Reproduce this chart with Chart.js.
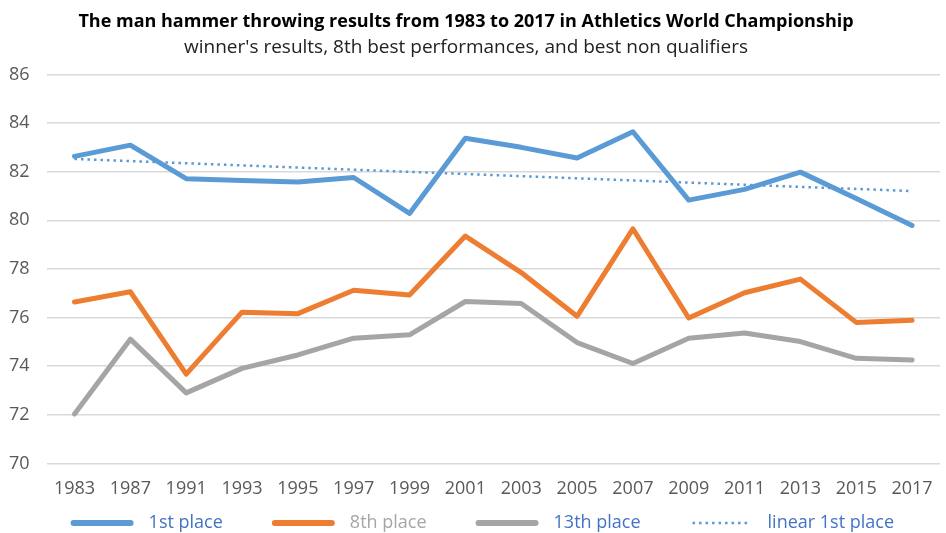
<!DOCTYPE html>
<html>
<head>
<meta charset="utf-8">
<title>Hammer throw results</title>
<script src="https://cdn.jsdelivr.net/npm/chart.js@4"></script>
<style>
  body { margin: 0; background: #fff; }
  #wrap { width: 946px; height: 533px; position: relative; }
</style>
</head>
<body>
<div id="wrap"><canvas id="hammerChart"></canvas></div>
<script>
var years = ["1983", "1987", "1991", "1993", "1995", "1997", "1999", "2001", "2003", "2005", "2007", "2009", "2011", "2013", "2015", "2017"];

var firstPlace = [82.63, 83.09, 81.71, 81.64, 81.57, 81.76, 80.28, 83.37, 83.0, 82.56, 83.64, 80.83, 81.27, 81.98, 80.9, 79.79];
var eighthPlace = [76.64, 77.06, 73.67, 76.22, 76.16, 77.12, 76.93, 79.35, 77.85, 76.05, 79.65, 75.98, 77.02, 77.58, 75.8, 75.89];
var thirteenthPlace = [72.03, 75.11, 72.9, 73.91, 74.46, 75.15, 75.29, 76.66, 76.58, 74.97, 74.11, 75.15, 75.36, 75.01, 74.32, 74.25];
// trend line at its two ends
var linearFirst = [82.52, null, null, null, null, null, null, null, null, null, null, null, null, null, null, 81.2];

var legendTextColors = ["#4472c4", "#a6a6a6", "#4472c4", "#4472c4"];

var fontFam = "'Open Sans', 'Noto Sans', sans-serif";

// legend drawn by hand so the gaps between items can be wider than the row height
var bottomLegend = {
  id: 'bottomLegend',
  afterDraw: function(chart) {
    var c = chart.ctx;
    var sets = chart.data.datasets;
    var sampleLen = 63, textGap = 15, itemGap = 49;
    var y = chart.height - 10;
    var x = chart.chartArea.left + 24;
    c.save();
    c.font = "18px " + fontFam;
    c.textBaseline = 'middle';
    for (var i = 0; i < sets.length; i++) {
      var ds = sets[i];
      c.beginPath();
      c.strokeStyle = ds.borderColor;
      if (ds.borderDash) {
        c.lineWidth = 2.5;
        c.lineCap = 'butt';
        c.setLineDash(ds.borderDash);
      } else {
        c.lineWidth = 6;
        c.lineCap = 'round';
        c.setLineDash([]);
      }
      c.moveTo(x + 3, y);
      c.lineTo(x + sampleLen - 3, y);
      c.stroke();
      c.fillStyle = legendTextColors[i];
      c.fillText(ds.label, x + sampleLen + textGap, y);
      x += sampleLen + textGap + c.measureText(ds.label).width + itemGap;
    }
    c.restore();
  }
};

var ctx = document.getElementById('hammerChart');

var hammerChart = new Chart(ctx, {
  type: 'line',
  data: {
    labels: years,
    datasets: [
      {
        label: "1st place",
        data: firstPlace,
        borderColor: "#5b9bd5",
        backgroundColor: "#5b9bd5",
        borderWidth: 5,
        borderCapStyle: 'round',
        borderJoinStyle: 'round',
        pointRadius: 0,
        tension: 0
      },
      {
        label: "8th place",
        data: eighthPlace,
        borderColor: "#ed7d31",
        backgroundColor: "#ed7d31",
        borderWidth: 5,
        borderCapStyle: 'round',
        borderJoinStyle: 'round',
        pointRadius: 0,
        tension: 0
      },
      {
        label: "13th place",
        data: thirteenthPlace,
        borderColor: "#a5a5a5",
        backgroundColor: "#a5a5a5",
        borderWidth: 5,
        borderCapStyle: 'round',
        borderJoinStyle: 'round',
        pointRadius: 0,
        tension: 0
      },
      {
        label: "linear 1st place",
        data: linearFirst,
        borderColor: "#5b9bd5",
        backgroundColor: "#5b9bd5",
        borderWidth: 2.5,
        borderDash: [2.5, 4],
        borderCapStyle: 'butt',
        pointRadius: 0,
        spanGaps: true,
        tension: 0
      }
    ]
  },
  options: {
    responsive: true,
    maintainAspectRatio: false,
    animation: false,
    layout: {
      padding: { left: -8, right: 6, top: 0, bottom: 26 }
    },
    plugins: {
      title: {
        display: true,
        text: "The man hammer throwing results from 1983 to 2017 in Athletics World Championship",
        color: "#000",
        font: { family: fontFam, size: 18, weight: 'bold' },
        padding: { top: 11, bottom: 4 }
      },
      subtitle: {
        display: true,
        text: "winner's results, 8th best performances, and best non qualifiers",
        color: "#222",
        font: { family: fontFam, size: 19 },
        padding: { top: 0, bottom: 15 }
      },
      legend: { display: false },
      tooltip: { enabled: false }
    },
    scales: {
      x: {
        offset: true,
        grid: { display: false },
        border: { display: false },
        ticks: {
          color: "#595959",
          padding: 7,
          maxRotation: 0,
          autoSkip: false,
          font: { family: fontFam, size: 18 }
        }
      },
      y: {
        min: 70,
        max: 86,
        grid: { color: "#d9d9d9", lineWidth: 1.5, drawTicks: false },
        border: { display: false },
        ticks: {
          stepSize: 2,
          color: "#595959",
          padding: 17,
          font: { family: fontFam, size: 18 }
        }
      }
    }
  },
  plugins: [bottomLegend]
});
</script>
</body>
</html>
